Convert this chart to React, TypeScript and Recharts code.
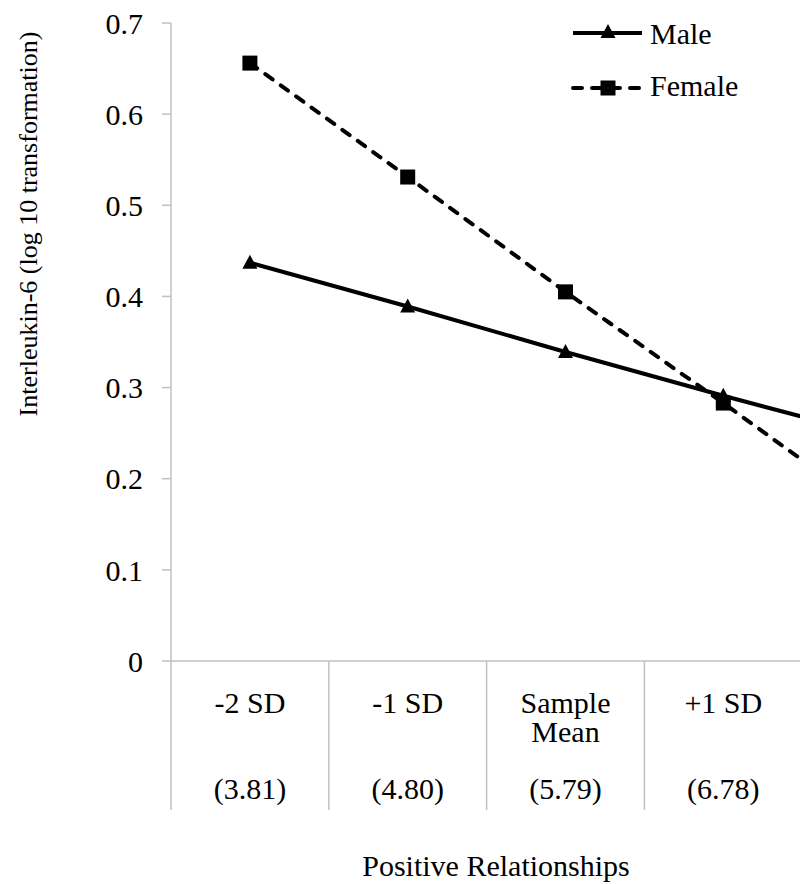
import React from 'react';
import { ComposedChart, Line, XAxis, YAxis, Legend } from 'recharts';

// Simple-slopes plot: IL-6 by positive relationships, split by sex.
// The last category runs past the 800px frame, same as the source figure.

const categories = ['-2 SD', '-1 SD', 'Sample Mean', '+1 SD', '+2 SD'];
const categoryLines = [['-2 SD'], ['-1 SD'], ['Sample', 'Mean'], ['+1 SD'], ['+2 SD']];
const scoreLabels = ['(3.81)', '(4.80)', '(5.79)', '(6.78)', '(7.77)'];
const maleValues = [0.437, 0.389, 0.339, 0.291, 0.245];
const femaleValues = [0.656, 0.531, 0.405, 0.283, 0.158];
const yTicks = [0, 0.1, 0.2, 0.3, 0.4, 0.5, 0.6, 0.7];

const FONT = 'Liberation Serif, Times New Roman, Tinos, DejaVu Serif, serif';
const FS = 30;
const AXIS_GREY = '#c0c0c0';
const CHART_W = 960;
const CHART_H = 884;
const Y_AXIS_W = 171;
const BAND = (CHART_W - Y_AXIS_W) / categories.length;

const data = categories.map((c, i) => ({
  category: c,
  male: maleValues[i],
  female: femaleValues[i],
}));

function Triangle({ cx, cy }: any) {
  if (cx == null || cy == null) return null;
  return <path d={`M${cx},${cy - 8} L${cx + 7.5},${cy + 6} L${cx - 7.5},${cy + 6} Z`} fill="#000" />;
}

function Square({ cx, cy }: any) {
  if (cx == null || cy == null) return null;
  return <rect x={cx - 7.5} y={cy - 7.5} width={15} height={15} fill="#000" />;
}

const textStyle = { fontFamily: FONT };

function CategoryTick({ x, y, payload, index }: any) {
  const lines = categoryLines[index] ?? [payload.value];
  const left = x - BAND / 2;
  return (
    <g>
      <line x1={left} y1={y} x2={left} y2={y + 149} stroke={AXIS_GREY} strokeWidth={1.5} />
      {index === categories.length - 1 && (
        <line x1={left + BAND} y1={y} x2={left + BAND} y2={y + 149} stroke={AXIS_GREY} strokeWidth={1.5} />
      )}
      {lines.map((t: string, i: number) => (
        <text key={t} x={x} y={y + 52 + i * 29} textAnchor="middle" fontSize={FS} style={textStyle} fill="#000">
          {t}
        </text>
      ))}
      <text x={x} y={y + 138} textAnchor="middle" fontSize={FS} style={textStyle} fill="#000">
        {scoreLabels[index]}
      </text>
    </g>
  );
}

function LegendBox() {
  return (
    <svg width={220} height={100}>
      <line x1={4} y1={22} x2={73} y2={22} stroke="#000" strokeWidth={4} />
      <Triangle cx={39} cy={21} />
      <text x={81} y={33} fontSize={FS} style={textStyle}>Male</text>
      <line x1={4} y1={77} x2={73} y2={77} stroke="#000" strokeWidth={4} strokeDasharray="9 10" strokeLinecap="round" />
      <Square cx={39} cy={77} />
      <text x={81} y={85} fontSize={FS} style={textStyle}>Female</text>
    </svg>
  );
}

export default function App() {
  return (
    <div style={{ position: 'fixed', left: 0, top: 0, width: 800, height: 884, overflow: 'hidden', background: '#fff', fontFamily: FONT }}>
      <ComposedChart width={CHART_W} height={CHART_H} data={data} margin={{ top: 23, right: 0, bottom: 0, left: 0 }}>
        <XAxis
          dataKey="category"
          scale="band"
          height={223}
          axisLine={{ stroke: AXIS_GREY, strokeWidth: 1.5 }}
          tickLine={false}
          tickSize={0}
          tickMargin={0}
          interval={0}
          tick={<CategoryTick />}
          label={{
            content: () => (
              <text x={496} y={876} textAnchor="middle" fontSize={FS} style={textStyle} fill="#000">
                Positive Relationships
              </text>
            ),
          }}
        />
        <YAxis
          width={Y_AXIS_W}
          domain={[0, 0.7]}
          ticks={yTicks}
          interval={0}
          axisLine={{ stroke: AXIS_GREY, strokeWidth: 1.5 }}
          tickLine={{ stroke: AXIS_GREY, strokeWidth: 1.5 }}
          tickSize={9}
          tickMargin={19}
          tick={{ fontSize: FS, fontFamily: FONT, fill: '#000' }}
          tickFormatter={(v: number) => (v === 0 ? '0' : v.toFixed(1))}
          label={{
            content: () => (
              <text
                x={28}
                y={224}
                transform="rotate(-90 28 224)"
                textAnchor="middle"
                dominantBaseline="central"
                fontSize={26}
                style={textStyle}
                fill="#000"
              >
                Interleukin-6 (log 10 transformation)
              </text>
            ),
          }}
        />
        <Legend
          layout="vertical"
          align="center"
          verticalAlign="middle"
          content={<LegendBox />}
          wrapperStyle={{ position: 'absolute', left: 569, top: 11, width: 220, height: 100 }}
        />
        <Line
          dataKey="male"
          name="Male"
          stroke="#000"
          strokeWidth={4}
          dot={<Triangle />}
          activeDot={false}
          isAnimationActive={false}
        />
        <Line
          dataKey="female"
          name="Female"
          stroke="#000"
          strokeWidth={4}
          strokeDasharray="9 10"
          strokeLinecap="round"
          dot={<Square />}
          activeDot={false}
          isAnimationActive={false}
        />
      </ComposedChart>
    </div>
  );
}
